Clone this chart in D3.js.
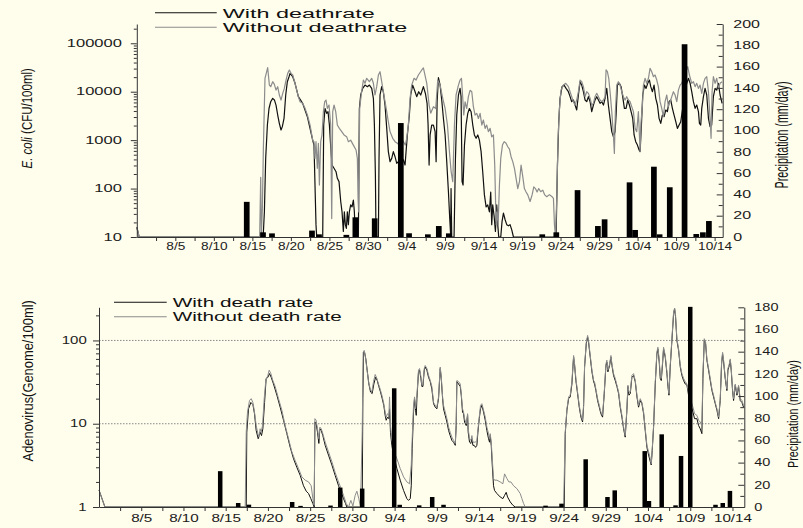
<!DOCTYPE html>
<html>
<head>
<meta charset="utf-8">
<script src="https://cdn.jsdelivr.net/npm/d3@7/dist/d3.min.js"></script>
<style>
  body { margin: 0; background: #fffdec; }
  svg { display: block; }
</style>
</head>
<body>
<div id="main"></div>
<script>
// x values are days since 31 July
const dateTicks = ["8/5", "8/10", "8/15", "8/20", "8/25", "8/30", "9/4", "9/9", "9/14",
                   "9/19", "9/24", "9/29", "10/4", "10/9", "10/14"];

const ecoliTicks = [10, 100, 1000, 10000, 100000];
const adenoTicks = [1, 10, 100];
const rainTicksTop = [0, 20, 40, 60, 80, 100, 120, 140, 160, 180, 200];
const rainTicksBottom = [0, 20, 40, 60, 80, 100, 120, 140, 160, 180];
const adenoGrid = [10, 100];

const ecoliLegend = ["With deathrate", "Without deathrate"];
const adenoLegend = ["With death rate", "Without death rate"];

// E. coli, with death rate
const ecoliWith = [[0,16],[0.3,10],[16.4,10],[16.56,33],[16.73,420],[16.95,2050],[17.16,4500],[17.38,6200],[17.64,7300],[17.86,6760],[18.07,5300],[18.29,3300],[18.5,2220],[18.72,1620],[18.89,1900],[19.11,2800],[19.33,8550],[19.54,16100],[19.76,20400],[19.89,23900],[20.24,20400],[20.54,14900],[20.97,7900],[21.53,5750],[22.14,3050],[22.83,1000],[23.0,790],[23.13,118],[23.26,18],[23.35,10],[24.13,10],[24.26,2050],[24.43,4500],[24.65,3570],[24.82,3870],[25.0,2050],[25.17,730],[25.34,306],[25.6,262],[25.86,223],[26.03,163],[26.25,139],[26.47,54],[26.64,33],[26.81,13],[26.94,33],[27.07,18],[27.2,15],[27.33,33],[27.46,18],[27.59,33],[27.76,46],[27.94,42],[28.11,58],[28.24,33],[28.37,10],[28.76,10],[28.89,4500],[29.06,8550],[29.32,11700],[29.62,13700],[29.93,12700],[30.19,13700],[30.49,11700],[30.71,7300],[30.84,2050],[30.97,190],[31.05,10],[31.36,10],[31.44,420],[31.57,8550],[31.79,12700],[32.0,10000],[32.22,5300],[32.44,1750],[32.65,580],[32.87,360],[33.09,420],[33.3,580],[33.52,455],[33.74,332],[33.95,360],[34.17,455],[34.38,420],[34.6,390],[34.82,306],[34.95,580],[35.12,1280],[35.38,3300],[35.55,8550],[35.81,13700],[36.12,10000],[36.33,7900],[36.59,10000],[36.85,8550],[36.99,10000],[37.2,12700],[37.46,9200],[37.68,5750],[37.81,2050],[37.94,306],[38.07,1280],[38.28,2050],[38.5,2050],[38.72,1500],[38.85,360],[38.98,6200],[39.15,19500],[39.37,13700],[39.58,6760],[39.8,2800],[40.02,1280],[40.23,360],[40.45,86],[40.62,24],[40.75,10],[40.79,100],[40.88,10],[41.18,10],[41.36,420],[41.53,3300],[41.75,8550],[41.96,11700],[42.09,7900],[42.22,139],[42.35,118],[42.53,790],[42.74,2050],[42.96,3570],[43.17,4500],[43.39,3870],[43.61,2050],[43.82,1280],[44.04,1090],[44.26,1280],[44.47,1000],[44.69,580],[44.9,223],[45.12,74],[45.34,42],[45.55,46],[45.77,33],[45.94,85],[46.07,18],[46.2,46],[46.38,27],[46.55,13],[46.72,46],[46.85,18],[46.98,10],[47.24,10],[47.41,21],[47.59,31],[47.8,23],[48.02,18],[48.24,17],[48.45,18],[48.67,14],[48.89,10],[54.42,10],[54.6,306],[54.77,2400],[54.94,7300],[55.2,12700],[55.46,13700],[55.72,11700],[56.02,10000],[56.24,7900],[56.45,6220],[56.67,6730],[56.89,5310],[57.1,4190],[57.32,8550],[57.54,16100],[57.75,13700],[57.97,10000],[58.19,6730],[58.4,6220],[58.62,7900],[58.84,6220],[59.05,3870],[59.27,5310],[59.48,6730],[59.7,7900],[59.92,6730],[60.13,5750],[60.35,6220],[60.57,5310],[60.78,7300],[61.0,11700],[61.21,5310],[61.43,2820],[61.65,1500],[61.86,1180],[62.08,1500],[62.21,3300],[62.38,13700],[62.64,14900],[62.86,12700],[63.07,7900],[63.29,4530],[63.51,4530],[63.72,6730],[63.94,5310],[64.16,3870],[64.37,2820],[64.55,1280],[64.76,930],[64.98,790],[65.2,625],[65.33,580],[65.5,2050],[65.67,8550],[65.89,13700],[66.1,11700],[66.32,14900],[66.54,17400],[66.71,12700],[66.93,10000],[67.14,13700],[67.36,7300],[67.58,5310],[67.79,2820],[68.01,2220],[68.22,3300],[68.44,3050],[68.66,4190],[68.87,3870],[69.09,6220],[69.31,6730],[69.52,4530],[69.74,3300],[69.96,2400],[70.17,1750],[70.39,2050],[70.6,2400],[70.86,4530],[71.2,12000],[71.6,18900],[71.82,14900],[72.03,10000],[72.25,6220],[72.47,4530],[72.68,5310],[72.9,3870],[73.03,2220],[73.2,2050],[73.33,4530],[73.55,7900],[73.76,11700],[73.98,8550],[74.2,2820],[74.41,1900],[74.62,2050],[74.84,7900],[75.06,11700],[75.28,10800],[75.49,14900],[75.71,8550],[75.97,5750]];

// E. coli, without death rate
const ecoliWithout = [[0,16],[0.3,10],[15.95,10],[16.08,170],[16.17,11],[16.3,40],[16.43,680],[16.64,18900],[16.86,25900],[16.99,31300],[17.21,13700],[17.38,12700],[17.64,16100],[17.86,14200],[18.07,10800],[18.29,12700],[18.5,8550],[18.72,6730],[18.94,9250],[19.15,11700],[19.37,17400],[19.59,23900],[19.8,28100],[20.02,23900],[20.24,22100],[20.54,14900],[20.97,7900],[21.19,6220],[21.53,5750],[21.84,4530],[22.14,3300],[22.49,2050],[22.83,1000],[23.0,930],[23.13,420],[23.26,930],[23.43,262],[23.57,860],[23.7,118],[23.87,930],[24.04,1280],[24.22,3870],[24.39,6220],[24.56,6730],[24.74,4530],[24.95,5310],[25.17,2050],[25.3,24],[25.43,3870],[25.6,5310],[25.82,3870],[26.03,2050],[26.29,1750],[26.6,1500],[26.9,1280],[27.24,1180],[27.46,930],[27.76,1000],[28.11,790],[28.46,625],[28.63,420],[28.72,63],[28.8,33],[28.93,4530],[29.15,9250],[29.41,17400],[29.62,14900],[29.84,18900],[30.19,16100],[30.49,18900],[30.71,14900],[30.92,8550],[31.14,12700],[31.36,22100],[31.57,25900],[31.79,16100],[32.0,10000],[32.22,6220],[32.44,3870],[32.65,2400],[32.87,1500],[33.22,1090],[33.52,930],[33.82,860],[34.08,790],[34.38,1090],[34.6,930],[34.86,790],[35.03,1090],[35.25,2050],[35.47,7300],[35.68,13700],[35.99,18900],[36.25,17400],[36.55,22100],[36.99,28100],[37.2,31000],[37.64,14900],[37.94,5300],[38.15,3600],[38.5,4900],[38.8,4500],[39.06,17400],[39.37,13700],[39.71,7300],[40.02,4500],[40.32,2050],[40.58,580],[40.8,223],[41.01,139],[41.23,2050],[41.44,8550],[41.75,13700],[41.96,17400],[42.14,18900],[42.31,7300],[42.44,3300],[42.61,6200],[42.83,4500],[43.04,7900],[43.26,10700],[43.48,10000],[43.69,4900],[43.91,3300],[44.13,3570],[44.34,2800],[44.56,3570],[44.78,2050],[44.99,2600],[45.21,1750],[45.42,2050],[45.64,1500],[45.86,1750],[46.07,1170],[46.29,1280],[46.46,306],[46.64,18],[46.77,33],[46.9,18],[47.07,118],[47.24,420],[47.46,790],[47.68,930],[47.93,860],[48.15,730],[48.37,650],[48.58,455],[48.8,360],[49.02,262],[49.23,163],[49.45,100],[49.67,139],[49.88,306],[50.1,177],[50.31,100],[50.53,85],[50.75,74],[51.05,54],[51.31,74],[51.53,108],[51.74,100],[51.96,85],[52.17,100],[52.43,86],[52.69,93],[52.95,74],[53.21,68],[53.56,75],[53.9,68],[54.08,63],[54.21,18],[54.34,10],[54.51,63],[54.68,1090],[54.86,4500],[55.07,10900],[55.38,13700],[55.68,14900],[56.02,12700],[56.24,10000],[56.45,7900],[56.67,6220],[56.89,5310],[57.1,6730],[57.32,10000],[57.54,17400],[57.75,16100],[57.97,12700],[58.19,7900],[58.4,10000],[58.62,9250],[58.84,7300],[59.05,5310],[59.27,5750],[59.48,7900],[59.7,9250],[59.92,7900],[60.13,6730],[60.35,6220],[60.57,6730],[60.78,7900],[60.91,28100],[61.08,25900],[61.26,18900],[61.43,10000],[61.65,3870],[61.86,1280],[61.99,530],[62.12,3870],[62.3,13700],[62.51,16100],[62.73,13700],[62.95,10000],[63.16,7900],[63.38,6730],[63.59,7900],[63.81,6730],[64.03,6220],[64.24,4910],[64.46,3870],[64.68,1750],[64.89,1500],[65.11,3870],[65.33,580],[65.45,2400],[65.63,5310],[65.76,13700],[65.97,18900],[66.19,14900],[66.41,18900],[66.62,30300],[66.84,25900],[67.06,20400],[67.27,22100],[67.49,17400],[67.7,12700],[67.92,6220],[68.14,4530],[68.35,3050],[68.57,6220],[68.79,8550],[69.0,4910],[69.22,6220],[69.44,7900],[69.65,10000],[69.87,8550],[70.09,6220],[70.3,10800],[70.52,13700],[70.73,14900],[71.51,33000],[71.73,22100],[72.03,14900],[72.25,16100],[72.47,12700],[72.68,14900],[72.9,11700],[73.11,13700],[73.33,9250],[73.55,14900],[73.76,18900],[73.98,20400],[74.2,10000],[74.41,2820],[74.54,1090],[74.67,10000],[74.84,20400],[75.06,14900],[75.28,18900],[75.49,11700],[75.71,14900],[75.97,16100]];

// daily precipitation (mm/day) as drawn under the E. coli panel
const ecoliRain = [[14.27,33],[16.38,4.4],[17.55,3.4],[22.74,6],[23.65,2.5],[27.2,2],[28.37,18.5],[30.88,17.5],[34.27,107],[35.34,3.5],[37.78,2.5],[39.2,10.3],[40.5,3.4],[52.63,2.5],[54.45,4.4],[57.21,44],[59.85,10.3],[60.72,16.6],[63.96,51.3],[64.68,6.6],[67.12,66],[67.86,2.5],[69.18,46.7],[71.1,181],[72.62,2.8],[73.48,4.4],[74.26,15]];

// Adenovirus, with death rate
const adenoWith = [[0,1.6],[0.7,1],[17.43,1],[17.5,7.9],[17.7,15.1],[17.98,18],[18.22,17],[18.41,13.2],[18.61,8.3],[18.85,6.6],[19.08,7.9],[19.24,7.2],[19.4,8.7],[19.6,18],[19.79,35],[19.99,36],[20.19,40],[20.39,36],[20.66,30],[21.06,22],[21.45,15.8],[21.85,11],[22.24,7.6],[22.64,5.2],[23.03,3.8],[23.42,3.0],[23.82,2.4],[24.21,1.8],[24.53,1.55],[24.81,1.45],[25.08,1.26],[25.32,1.1],[25.48,1],[25.56,10.5],[25.71,10],[25.87,7.9],[26.03,5.8],[26.15,8.7],[26.31,8.3],[26.5,7.2],[26.78,5.5],[27.17,4.2],[27.57,3.2],[27.96,2.4],[28.36,1.8],[28.63,1.55],[28.95,1.26],[29.19,1.1],[29.34,1],[31.16,1],[31.24,20],[31.32,72],[31.44,72],[31.59,60],[31.75,44],[31.95,30],[32.15,24],[32.34,23],[32.54,30],[32.74,36],[32.94,33],[33.13,28],[33.33,24],[33.53,20],[33.72,16.6],[33.88,12.6],[34.0,11],[34.16,12],[34.32,11.5],[34.4,15.1],[34.51,7.9],[34.67,5.5],[34.87,4.2],[35.27,2.9],[35.66,2.1],[36.06,1.58],[36.45,1.26],[36.65,1.2],[36.85,1.26],[36.97,1.8],[37.08,5.0],[37.24,13.8],[37.36,20],[37.48,14.5],[37.56,12.6],[37.64,20],[37.83,42],[37.95,44],[38.11,35],[38.23,28],[38.35,28],[38.51,44],[38.62,48],[38.82,44],[39.02,36],[39.22,32],[39.41,26],[39.61,17.4],[39.81,15.8],[40.0,15.1],[40.2,20],[40.4,46],[40.52,35],[40.68,20],[40.79,15.1],[40.99,12.6],[41.19,10.5],[41.39,8.3],[41.58,7.2],[41.78,6.3],[41.98,6.0],[42.18,5.5],[42.29,9.5],[42.37,32],[42.57,30],[42.77,28],[42.89,22],[43.04,13.8],[43.16,13.2],[43.28,10.5],[43.48,9.5],[43.64,12.6],[43.71,7.9],[43.87,6.0],[44.03,5.8],[44.15,6.6],[44.27,5.5],[44.42,5.5],[44.58,5.2],[44.74,5.5],[44.86,7.9],[45.02,11.5],[45.17,15.1],[45.33,16.6],[45.53,13.8],[45.73,11],[45.92,8.3],[46.12,6.6],[46.24,6.0],[46.32,7.2],[46.44,5.5],[46.56,3.2],[46.71,1.8],[46.83,1.58],[47.11,1.45],[47.5,1.32],[47.82,1.26],[48.02,1.38],[48.21,1.5],[48.37,1.32],[48.69,1.15],[49.0,1.05],[49.28,1],[55.08,1],[55.2,7.6],[55.4,14.5],[55.6,20],[55.79,21],[55.99,30],[56.11,48],[56.19,63],[56.31,50],[56.46,33],[56.66,23],[56.86,15.8],[57.06,12],[57.25,10.5],[57.37,15.8],[57.49,48],[57.69,91],[57.85,110],[57.96,95],[58.16,63],[58.36,42],[58.56,32],[58.67,30],[58.83,25],[59.03,19],[59.23,15.8],[59.42,13.2],[59.62,12],[59.82,23],[60.02,50],[60.13,55],[60.25,42],[60.45,50],[60.61,63],[60.73,50],[60.92,38],[61.12,33],[61.32,28],[61.52,23],[61.71,15.8],[61.91,12],[62.11,8.7],[62.3,6.9],[62.5,14.5],[62.62,28],[62.74,22],[62.9,23],[63.09,36],[63.29,38],[63.49,32],[63.69,21],[63.88,15.8],[64.08,19],[64.28,17.4],[64.48,13.2],[64.67,8.3],[64.87,5.2],[65.07,4.2],[65.27,3.5],[65.38,3.2],[65.5,4.8],[65.66,9.1],[65.86,30],[66.05,69],[66.17,79],[66.33,55],[66.45,35],[66.57,33],[66.72,52],[66.84,79],[67.04,63],[67.24,40],[67.36,28],[67.48,22],[67.63,48],[67.83,100],[68.03,209],[68.15,240],[68.26,191],[68.42,100],[68.62,76],[68.82,48],[69.01,38],[69.21,33],[69.41,30],[69.61,29],[69.8,22],[70.32,13.8],[70.51,11.5],[70.79,11.5],[70.99,9.5],[71.18,8.7],[71.38,7.6],[71.5,35],[71.66,100],[71.82,91],[71.97,58],[72.17,44],[72.37,33],[72.57,25],[72.76,21],[72.96,17.4],[73.16,14.5],[73.36,11.5],[73.55,19],[73.71,52],[73.83,69],[73.95,55],[74.14,35],[74.34,25],[74.46,44],[74.62,50],[74.74,58],[74.85,44],[75.01,25],[75.13,19],[75.33,29],[75.53,22],[75.72,28],[75.92,19],[76.12,18],[76.31,15.8]];

// Adenovirus, without death rate
const adenoWithout = [[0,1.6],[0.7,1],[17.31,1],[17.43,7.9],[17.58,13.8],[17.82,19],[18.02,20],[18.22,18],[18.41,13.8],[18.61,9.5],[18.81,7.6],[18.93,6.9],[19.08,8.7],[19.2,7.9],[19.36,9.5],[19.56,20],[19.75,33],[19.99,38],[20.15,44],[20.35,40],[20.58,33],[20.86,28],[21.25,20],[21.65,14.5],[22.04,9.5],[22.44,6.6],[22.83,4.6],[23.23,3.6],[23.62,2.9],[24.02,2.3],[24.41,2.1],[24.81,2.0],[25.12,1.8],[25.32,1.26],[25.48,1.05],[25.56,11.5],[25.71,11],[25.87,8.7],[26.03,6.6],[26.15,9.1],[26.31,8.7],[26.5,7.6],[26.78,6.0],[27.17,4.6],[27.57,3.5],[27.96,2.6],[28.36,2.0],[28.63,1.7],[28.95,1.38],[29.27,1.1],[29.54,1],[29.82,1.2],[30.06,1.03],[30.33,1.38],[30.53,1.55],[30.76,1.26],[30.96,1],[31.16,7.9],[31.28,72],[31.4,76],[31.55,63],[31.71,46],[31.91,32],[32.11,26],[32.3,24],[32.5,32],[32.7,39],[32.9,35],[33.09,30],[33.29,26],[33.49,22],[33.69,18],[33.88,13.8],[34.0,12],[34.16,13.2],[34.32,12.6],[34.4,21],[34.51,9.5],[34.67,6.6],[34.87,4.8],[35.27,3.8],[35.66,2.9],[36.06,2.3],[36.45,2.0],[36.77,1.9],[36.97,3.2],[37.08,6.6],[37.24,16.6],[37.36,21],[37.48,15.1],[37.64,22],[37.83,44],[37.95,46],[38.11,37],[38.23,29],[38.35,30],[38.51,46],[38.62,50],[38.82,46],[39.02,38],[39.22,33],[39.41,28],[39.61,18],[39.81,16.6],[40.0,15.8],[40.2,21],[40.4,48],[40.52,37],[40.68,21],[40.79,16.6],[40.99,13.8],[41.19,11.5],[41.39,9.1],[41.58,7.9],[41.78,6.9],[41.98,6.3],[42.18,5.8],[42.29,10],[42.37,33],[42.57,32],[42.77,30],[42.89,23],[43.04,15.1],[43.16,13.8],[43.28,11.5],[43.48,10],[43.64,13.2],[43.71,8.7],[43.87,6.6],[44.03,6.3],[44.15,7.2],[44.27,6.0],[44.42,6.0],[44.58,6.0],[44.74,6.3],[44.86,8.3],[45.02,12],[45.17,16.6],[45.33,17.4],[45.53,14.5],[45.73,12],[45.92,9.1],[46.12,7.6],[46.24,6.6],[46.32,7.6],[46.44,6.0],[46.56,3.8],[46.71,2.2],[46.83,2.1],[47.11,2.1],[47.5,2.0],[47.82,1.9],[48.02,2.5],[48.29,2.2],[48.53,2.0],[48.77,2.0],[49.08,1.8],[49.48,1.66],[49.87,1.45],[50.07,1.26],[50.27,1.1],[50.46,1],[55.0,1],[55.2,7.9],[55.4,15],[55.6,21],[55.79,22],[55.99,32],[56.11,50],[56.19,66],[56.31,52],[56.46,35],[56.66,24],[56.86,16.6],[57.06,12.6],[57.25,11],[57.37,16.6],[57.49,50],[57.69,95],[57.85,115],[57.96,100],[58.16,66],[58.36,44],[58.56,33],[58.67,32],[58.83,26],[59.03,20],[59.23,16.6],[59.42,13.8],[59.62,12.6],[59.82,24],[60.02,52],[60.13,58],[60.25,44],[60.45,52],[60.61,66],[60.73,52],[60.92,40],[61.12,35],[61.32,29],[61.52,24],[61.71,16.6],[61.91,12.6],[62.11,9.1],[62.3,7.2],[62.5,15.1],[62.62,29],[62.74,24],[62.9,24],[63.09,38],[63.29,40],[63.49,33],[63.69,22],[63.88,16.6],[64.08,20],[64.28,18],[64.48,13.8],[64.67,8.7],[64.87,5.5],[65.07,4.6],[65.27,3.8],[65.38,3.3],[65.5,5.0],[65.66,9.5],[65.86,32],[66.05,72],[66.17,83],[66.33,58],[66.45,38],[66.57,35],[66.72,55],[66.84,83],[67.04,66],[67.24,42],[67.36,30],[67.48,23],[67.63,50],[67.83,105],[68.03,219],[68.15,245],[68.26,200],[68.42,105],[68.62,79],[68.82,50],[69.01,40],[69.21,35],[69.41,32],[69.61,30],[69.8,24],[70.32,15.8],[70.51,13.2],[70.79,12.6],[70.99,11],[71.18,10.5],[71.38,9.5],[71.5,38],[71.66,105],[71.82,95],[71.97,60],[72.17,46],[72.37,35],[72.57,26],[72.76,22],[72.96,18],[73.16,15.1],[73.36,12],[73.55,20],[73.71,55],[73.83,72],[73.95,58],[74.14,36],[74.34,26],[74.46,46],[74.62,52],[74.74,60],[74.85,46],[75.01,26],[75.13,20],[75.33,30],[75.53,23],[75.72,29],[75.92,20],[76.12,19],[76.31,16.6]];

// daily precipitation (mm/day) as drawn under the Adenovirus panel
const adenoRain = [[14.35,32.3],[16.48,3.6],[17.75,2.1],[22.87,4.5],[23.86,1],[27.41,1.3],[28.56,17.5],[31.16,16.6],[34.95,107],[35.6,2],[37.91,1.5],[39.45,9],[40.79,2],[52.87,1.2],[54.76,3],[57.62,43],[60.2,9],[61.06,15],[64.61,50.4],[65.11,5.4],[66.62,65.5],[68.26,1.5],[68.91,46],[70.0,180.4],[72.99,2],[73.85,3.6],[74.7,14.5]];

const ctx = { w: 803, h: 528 };
const FONT = '"Liberation Sans", Arial, sans-serif';
const AXIS = "#333";
const day0 = Date.UTC(2000, 6, 31);
const toDate = d => new Date(day0 + d * 864e5);
const parseTick = d3.utcParse("%Y/%m/%d");
const tickDates = dateTicks.map(s => parseTick("2000/" + s));

function stretchText(sel, sx) {
    sel.attr("transform", `scale(${sx},1)`);
}

function drawPanel(svg, p) {
    const x = d3.scaleUtc()
                .domain([toDate(0), toDate(p.endDay)])
                .range([p.left, p.right]);
    const y = d3.scaleLog()
                .domain(p.logDomain)
                .range([p.bottom, p.top]);
    const yRain = d3.scaleLinear()
                .domain([0, p.rainMax])
                .range([p.bottom, p.top]);

    const g = svg.append("g");

    // dotted reference lines
    g.selectAll(".grid")
     .data(p.grid)
     .enter().append("line")
     .attr("x1", p.left)
     .attr("x2", p.right)
     .attr("y1", d => y(d))
     .attr("y2", d => y(d))
     .attr("stroke", "#8a8a8a")
     .attr("stroke-width", 1)
     .attr("stroke-dasharray", "1.5,1.5");

    const line = d3.line()
                   .x(d => x(toDate(d[0])))
                   .y(d => y(d[1]));

    g.append("path")
     .datum(p.withData)
     .attr("d", line)
     .attr("fill", "none")
     .attr("stroke", "#111")
     .attr("stroke-width", p.lw)
     .attr("stroke-linejoin", "round");

    g.append("path")
     .datum(p.withoutData)
     .attr("d", line)
     .attr("fill", "none")
     .attr("stroke", "#8c8c8c")
     .attr("stroke-width", p.lw)
     .attr("stroke-linejoin", "round");

    // precipitation bars on top of the lines
    g.selectAll(".bar")
     .data(p.rain)
     .enter().append("rect")
     .attr("class", "bar")
     .attr("x", d => x(toDate(d[0])) - p.barW / 2)
     .attr("y", d => yRain(d[1]))
     .attr("width", p.barW)
     .attr("height", d => p.bottom - yRain(d[1]))
     .attr("fill", "#000");

    // x axis: minor ticks every 2.5 days, labels every 5
    const minorX = d3.range(2.5, p.endDay, 2.5).map(toDate);
    const xAxis = g.append("g")
        .attr("transform", `translate(0,${p.bottom})`)
        .call(d3.axisBottom(x).tickValues(minorX).tickSize(4).tickSizeOuter(0).tickFormat(""));
    xAxis.select(".domain").attr("stroke", AXIS);
    xAxis.selectAll(".tick line").attr("stroke", AXIS);

    const xLab = g.append("g")
        .attr("transform", `translate(0,${p.bottom})`)
        .call(d3.axisBottom(x).tickValues(tickDates).tickSize(0).tickFormat((d, i) => dateTicks[i]));
    xLab.select(".domain").remove();
    xLab.attr("font-family", FONT).attr("font-size", 10.5);
    xLab.selectAll("text")
        .attr("y", p.xLabelY)
        .attr("dy", 0)
        .attr("fill", "#1a1a1a")
        .call(stretchText, p.xLabelSx);

    // left log axis
    const minorY = y.ticks().filter(v => !p.logTicks.includes(v));
    const yMinor = g.append("g")
        .attr("transform", `translate(${p.left},0)`)
        .call(d3.axisLeft(y).tickValues(minorY).tickSize(3).tickSizeOuter(0).tickFormat(""));
    yMinor.select(".domain").attr("stroke", AXIS);
    yMinor.selectAll(".tick line").attr("stroke", AXIS);

    const yAxis = g.append("g")
        .attr("transform", `translate(${p.left},0)`)
        .call(d3.axisLeft(y).tickValues(p.logTicks).tickSize(6).tickSizeOuter(0).tickFormat(d3.format("d")));
    yAxis.select(".domain").remove();
    yAxis.selectAll(".tick line").attr("stroke", AXIS);
    yAxis.attr("font-family", FONT).attr("font-size", 10);
    yAxis.selectAll("text")
         .attr("x", p.leftLabelGap / p.leftSx)
         .attr("fill", "#1a1a1a")
         .call(stretchText, p.leftSx);

    // right precipitation axis, ticks pointing inward
    const rainMinor = p.rainTicks.slice(1).map(v => v - 10);
    const rMinor = g.append("g")
        .attr("transform", `translate(${p.right},0)`)
        .call(d3.axisLeft(yRain).tickValues(rainMinor).tickSize(4).tickSizeOuter(0).tickFormat(""));
    rMinor.select(".domain").attr("stroke", AXIS);
    rMinor.selectAll(".tick line").attr("stroke", AXIS);

    const rAxis = g.append("g")
        .attr("transform", `translate(${p.right},0)`)
        .call(d3.axisLeft(yRain).tickValues(p.rainTicks).tickSize(6).tickSizeOuter(0));
    rAxis.select(".domain").remove();
    rAxis.selectAll(".tick line").attr("stroke", AXIS);
    rAxis.attr("font-family", FONT).attr("font-size", 10).attr("text-anchor", "start");
    rAxis.selectAll("text")
         .attr("x", p.rightLabelGap / p.rightSx)
         .attr("fill", "#1a1a1a")
         .call(stretchText, p.rightSx);

    // legend
    p.legend.forEach((label, i) => {
        const row = p.legendRows[i];
        g.append("line")
         .attr("x1", p.legendX1)
         .attr("x2", p.legendX2)
         .attr("y1", row.lineY)
         .attr("y2", row.lineY)
         .attr("stroke", i === 0 ? "#111" : "#8c8c8c")
         .attr("stroke-width", 1.1);
        g.append("text")
         .attr("x", p.legendTextX)
         .attr("y", row.textY)
         .attr("font-family", FONT)
         .attr("font-size", 12.5)
         .attr("fill", "#111")
         .attr("textLength", row.len)
         .attr("lengthAdjust", "spacingAndGlyphs")
         .text(label);
    });

    // axis titles
    const lt = g.append("text")
        .attr("transform", `translate(${p.leftTitle.x},${p.leftTitle.y}) scale(${p.leftTitle.sx},1) rotate(-90)`)
        .attr("text-anchor", "middle")
        .attr("dy", "0.35em")
        .attr("font-family", FONT)
        .attr("font-size", p.leftTitle.size)
        .attr("fill", "#111");
    p.leftTitle.parts.forEach(part => {
        lt.append("tspan").style("font-style", part.italic ? "italic" : "normal").text(part.t);
    });

    g.append("text")
     .attr("transform", `translate(${p.rightTitle.x},${p.rightTitle.y}) scale(${p.rightTitle.sx},1) rotate(-90)`)
     .attr("text-anchor", "middle")
     .attr("dy", "0.35em")
     .attr("font-family", FONT)
     .attr("font-size", p.rightTitle.size)
     .attr("fill", "#111")
     .text("Precipitation (mm/day)");
}

function createViz() {
    const svgEl = d3.select("#main").append("svg")
        .attr("width", ctx.w)
        .attr("height", ctx.h);

    svgEl.append("rect")
         .attr("width", ctx.w)
         .attr("height", ctx.h)
         .attr("fill", "#fffdec");

    drawPanel(svgEl, {
        left: 136.8, right: 722.7, top: 24, bottom: 237, endDay: 76.05,
        logDomain: [10, 250000], logTicks: ecoliTicks, rainMax: 200, rainTicks: rainTicksTop,
        grid: [], withData: ecoliWith, withoutData: ecoliWithout, rain: ecoliRain,
        lw: 1.2, barW: 5.7,
        xLabelY: 13.5, xLabelSx: 1.3,
        leftLabelGap: -15, leftSx: 1.65,
        rightLabelGap: 10.6, rightSx: 1.6,
        legend: ecoliLegend, legendX1: 155, legendX2: 216.7, legendTextX: 222.7,
        legendRows: [{lineY: 12.7, textY: 18.3, len: 152}, {lineY: 27.3, textY: 32.3, len: 184.7}],
        leftTitle: {x: 26.5, y: 118.3, sx: 1.35, size: 11.5,
                    parts: [{t: "E. coli", italic: true}, {t: " (CFU/100ml)", italic: false}]},
        rightTitle: {x: 781.5, y: 135, sx: 1.65, size: 10.7}
    });

    drawPanel(svgEl, {
        left: 99, right: 744.3, top: 307.3, bottom: 507, endDay: 76.4,
        logDomain: [1, 250], logTicks: adenoTicks, rainMax: 180, rainTicks: rainTicksBottom,
        grid: adenoGrid, withData: adenoWith, withoutData: adenoWithout, rain: adenoRain,
        lw: 1.0, barW: 4.5,
        xLabelY: 14.7, xLabelSx: 1.45,
        leftLabelGap: -12.3, leftSx: 1.5,
        rightLabelGap: 10, rightSx: 1.45,
        legend: adenoLegend, legendX1: 114, legendX2: 166.7, legendTextX: 172.7,
        legendRows: [{lineY: 302.3, textY: 306.7, len: 140.7}, {lineY: 316.7, textY: 320.7, len: 169}],
        leftTitle: {x: 28, y: 380.8, sx: 1.15, size: 12.9,
                    parts: [{t: "Adenovirus(Genome/100ml)", italic: false}]},
        rightTitle: {x: 792.5, y: 414, sx: 1.4, size: 10.8}
    });
}

createViz();
</script>
</body>
</html>
